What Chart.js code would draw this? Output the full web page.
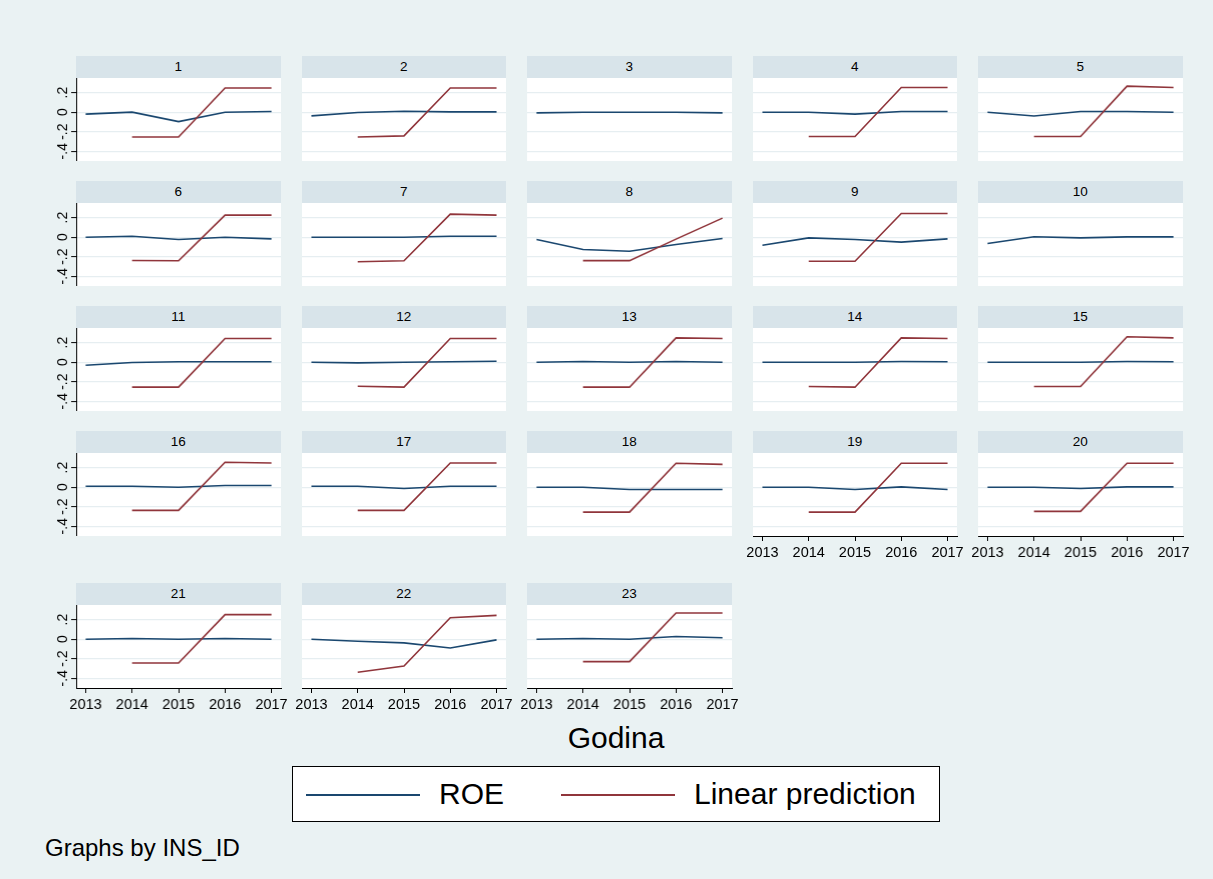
<!DOCTYPE html>
<html>
<head>
<meta charset="utf-8">
<title>ROE by INS_ID</title>
<script src="https://cdn.jsdelivr.net/npm/chart.js@4.4.1/dist/chart.umd.min.js"></script>
<style>
    html, body { margin: 0; padding: 0; }
    body {
        width: 1213px; height: 879px; position: relative; overflow: hidden;
        background: #eaf2f3; font-family: "Liberation Sans", Arial, sans-serif; color: #000;
    }
    .strip {
        position: absolute; height: 22px; line-height: 21px; background: #d8e4ea;
        text-align: center; font-size: 13.5px;
    }
    canvas { position: absolute; }
    #xtitle { position: absolute; left: 0; width: 1232px; top: 720px; text-align: center; font-size: 30px; line-height: 36px; }
    #legend {
        position: absolute; left: 292px; top: 766px; width: 646px; height: 54px;
        background: #fff; border: 1px solid #000;
    }
    #legend .key { position: absolute; top: 27px; height: 2px; width: 114px; }
    #legend .lbl { position: absolute; top: 9px; font-size: 30px; line-height: 36px; }
    #note { position: absolute; left: 45px; top: 834px; font-size: 24px; line-height: 28px; }
</style>
</head>
<body>
<div id="xtitle">Godina</div>
<div id="legend">
    <div class="key" style="left:13px;background:#1a476f"></div>
    <div class="lbl" style="left:146px">ROE</div>
    <div class="key" style="left:268px;background:#90353b"></div>
    <div class="lbl" style="left:401px">Linear prediction</div>
</div>
<div id="note">Graphs by INS_ID</div>
<script>
"use strict";

/* data */
var years = [2013, 2014, 2015, 2016, 2017];
var panelIds = ['1', '2', '3', '4', '5', '6', '7', '8', '9', '10', '11', '12',
    '13', '14', '15', '16', '17', '18', '19', '20', '21', '22', '23'];
var yTicks = [-0.4, -0.2, 0, 0.2];
var yTickLabels = ['-.4', '-.2', '0', '.2'];

var roe = [
    [-0.02, 0, -0.097, 0, 0.007],
    [-0.038, -0.003, 0.01, 0.003, 0.003],
    [-0.007, 0, 0, 0, -0.007],
    [0, 0, -0.02, 0.007, 0.007],
    [0, -0.039, 0.007, 0.007, 0],
    [0, 0.01, -0.024, 0, -0.017],
    [0, 0, 0, 0.01, 0.01],
    [-0.024, -0.127, -0.144, -0.075, -0.014],
    [-0.082, -0.007, -0.024, -0.051, -0.017],
    [-0.065, 0.005, -0.007, 0.003, 0.003],
    [-0.032, -0.004, 0.004, 0.004, 0.004],
    [0, -0.007, 0, 0.004, 0.01],
    [0, 0.007, 0, 0.007, 0],
    [0, 0, 0, 0.007, 0.004],
    [0, 0, 0, 0.007, 0.004],
    [0.01, 0.01, 0, 0.017, 0.017],
    [0.01, 0.01, -0.014, 0.01, 0.01],
    [0, 0, -0.024, -0.024, -0.024],
    [0, 0, -0.024, 0.003, -0.024],
    [0, 0, -0.014, 0.003, 0.003],
    [0, 0.007, 0, 0.007, 0],
    [0, -0.021, -0.038, -0.09, -0.007],
    [0, 0.007, 0, 0.028, 0.014]
];

var linPred = [
    [null, -0.254, -0.254, 0.247, 0.247],
    [null, -0.254, -0.243, 0.247, 0.247],
    [null, null, null, null, null],
    [null, -0.249, -0.249, 0.253, 0.253],
    [null, -0.249, -0.249, 0.267, 0.253],
    [null, -0.239, -0.242, 0.226, 0.226],
    [null, -0.252, -0.242, 0.236, 0.226],
    [null, -0.24, -0.24, -0.02, 0.195],
    [null, -0.247, -0.247, 0.243, 0.243],
    [null, null, null, null, null],
    [null, -0.256, -0.256, 0.242, 0.242],
    [null, -0.246, -0.256, 0.242, 0.242],
    [null, -0.256, -0.256, 0.249, 0.242],
    [null, -0.249, -0.256, 0.249, 0.242],
    [null, -0.249, -0.249, 0.26, 0.249],
    [null, -0.238, -0.238, 0.255, 0.248],
    [null, -0.238, -0.238, 0.248, 0.248],
    [null, -0.255, -0.255, 0.245, 0.234],
    [null, -0.255, -0.255, 0.245, 0.245],
    [null, -0.248, -0.248, 0.245, 0.245],
    [null, -0.244, -0.244, 0.251, 0.251],
    [null, -0.338, -0.275, 0.22, 0.244],
    [null, -0.23, -0.23, 0.268, 0.268]
];

/* layout */
var colLeft = [76, 301.5, 527, 752.5, 978];
var rowTop = [78, 203, 328, 453, 605];
var plotW = 204.5, plotH = 83, stripH = 22;
var yAxisW = 40, xAxisH = 30, sideM = 16;
var withXAxis = ['19', '20', '21', '22', '23'];

Chart.defaults.font.family = "'Liberation Sans', Arial, sans-serif";
Chart.defaults.color = '#000';

/* white plot region */
var plotBg = {
    id: 'plotBg',
    beforeDraw: function (chart) {
        var a = chart.chartArea, ctx = chart.ctx;
        ctx.save();
        ctx.fillStyle = '#ffffff';
        ctx.fillRect(a.left, a.top, a.right - a.left, a.bottom - a.top);
        ctx.restore();
    }
};

function points(vals) {
    return years.map(function (yr, i) { return { x: yr, y: vals[i] }; });
}

function noPad(s) {
    s.paddingLeft = 0; s.paddingRight = 0; s.paddingTop = 0; s.paddingBottom = 0;
}

panelIds.forEach(function (id, p) {
    var col = p % 5, row = Math.floor(p / 5);
    var firstCol = col === 0;
    var hasX = withXAxis.indexOf(id) >= 0;
    var left = colLeft[col], top = rowTop[row];
    var padL = firstCol ? 0 : sideM;

    /* strip header */
    var strip = document.createElement('div');
    strip.className = 'strip';
    strip.style.left = left + 'px';
    strip.style.top = (top - stripH) + 'px';
    strip.style.width = plotW + 'px';
    strip.textContent = id;
    document.body.appendChild(strip);

    var extraL = firstCol ? yAxisW : sideM;
    var w = plotW + extraL + sideM;
    var h = plotH + (hasX ? xAxisH : 0);
    var cv = document.createElement('canvas');
    cv.width = w; cv.height = h;
    cv.style.width = w + 'px'; cv.style.height = h + 'px';
    cv.style.left = (left - extraL) + 'px';
    cv.style.top = top + 'px';
    document.body.appendChild(cv);

    new Chart(cv.getContext('2d'), {
        type: 'line',
        data: {
            datasets: [{
                label: 'Linear prediction',
                data: points(linPred[p]),
                borderColor: '#90353b',
                borderWidth: 1.6,
                pointRadius: 0,
                tension: 0,
                order: 0
            }, {
                label: 'ROE',
                data: points(roe[p]),
                borderColor: '#1a476f',
                borderWidth: 1.6,
                pointRadius: 0,
                tension: 0,
                order: 1
            }]
        },
        options: {
            responsive: false,
            animation: false,
            events: [],
            layout: { padding: { left: padL, right: sideM, top: 0, bottom: 0 } },
            plugins: { legend: { display: false }, tooltip: { enabled: false } },
            scales: {
                x: {
                    type: 'linear',
                    display: hasX,
                    bounds: 'data',
                    min: 2012.796,
                    max: 2017.204,
                    afterBuildTicks: function (s) {
                        s.ticks = years.map(function (v) { return { value: v }; });
                    },
                    afterFit: function (s) { s.height = hasX ? xAxisH : 0; noPad(s); },
                    ticks: {
                        autoSkip: false, maxRotation: 0, padding: 3,
                        font: { size: 14.5 },
                        callback: function (v) { return String(v); }
                    },
                    grid: { display: true, drawOnChartArea: false, drawTicks: true, tickLength: 5, tickColor: '#000' },
                    border: { display: true, color: '#000', width: 1 }
                },
                y: {
                    type: 'linear',
                    bounds: 'data',
                    min: -0.5,
                    max: 0.35,
                    afterBuildTicks: function (s) {
                        s.ticks = yTicks.map(function (v) { return { value: v }; });
                    },
                    afterFit: function (s) { s.width = firstCol ? yAxisW : 0; noPad(s); },
                    ticks: {
                        display: firstCol,
                        minRotation: 90, maxRotation: 90,
                        crossAlign: 'center', padding: 0,
                        font: { size: 14 },
                        callback: function (v, i) { return yTickLabels[i]; }
                    },
                    grid: {
                        color: '#e6eef1', lineWidth: 1.2,
                        drawTicks: firstCol, tickLength: 5, tickColor: '#000', tickWidth: 1
                    },
                    border: { display: firstCol, color: '#000', width: 1 }
                }
            }
        },
        plugins: [plotBg]
    });
});
</script>
</body>
</html>
